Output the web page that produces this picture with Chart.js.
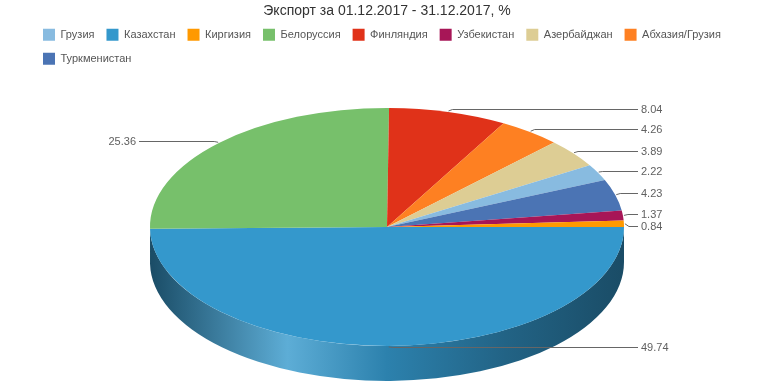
<!DOCTYPE html>
<html lang="ru">
<head>
<meta charset="utf-8">
<title>Экспорт за 01.12.2017 - 31.12.2017</title>
<script src="https://cdn.jsdelivr.net/npm/chart.js@4.4.0/dist/chart.umd.min.js"></script>
<style>
  html, body { margin: 0; padding: 0; background: #fff; }
  canvas { display: block; }
</style>
</head>
<body>
<canvas id="chart" width="774" height="387"></canvas>
<script>
// slices in drawing order, clockwise from 3 o'clock
const countries = ['Казахстан', 'Белоруссия', 'Финляндия', 'Абхазия/Грузия', 'Азербайджан', 'Грузия', 'Туркменистан', 'Узбекистан', 'Киргизия'];
const shares = [49.74, 25.36, 8.04, 4.26, 3.89, 2.22, 4.23, 1.37, 0.84];
const sliceColors = ['#3498cc', '#77c06b', '#e03219', '#fe8022', '#ddcd94', '#88bbe0', '#4b74b4', '#a71657', '#ff9900'];
// legend shows them in another order
const legendOrder = ['Грузия', 'Казахстан', 'Киргизия', 'Белоруссия', 'Финляндия', 'Узбекистан', 'Азербайджан', 'Абхазия/Грузия', 'Туркменистан'];
const titleText = 'Экспорт за 01.12.2017 - 31.12.2017, %';

const fontFamily = '"Liberation Sans", Arial, Helvetica, sans-serif';

function shade(hex, f) {
    const n = parseInt(hex.slice(1), 16);
    const rgb = [n >> 16, (n >> 8) & 255, n & 255].map(c =>
        Math.round(f < 0 ? c * (1 + f) : c + (255 - c) * f));
    return 'rgb(' + rgb.join(',') + ')';
}

// squashes the pie into an ellipse and paints a side wall under it
const pie3d = {
    id: 'pie3d',
    beforeDatasetsDraw(chart, args, opts) {
        const ctx = chart.ctx;
        const arcs = chart.getDatasetMeta(0).data;
        if (!arcs.length) return;
        const { x, y, outerRadius: ry } = arcs[0];
        const rx = ry * opts.stretch;
        const TAU = Math.PI * 2;

        arcs.forEach((arc, i) => {
            const a = ((arc.startAngle % TAU) + TAU) % TAU;
            const b = a + (arc.endAngle - arc.startAngle);
            const color = sliceColors[i];
            const grad = ctx.createLinearGradient(x - rx, 0, x + rx, 0);
            grad.addColorStop(0, shade(color, -0.5));
            grad.addColorStop(0.29, shade(color, 0.2));
            grad.addColorStop(0.5, shade(color, -0.15));
            grad.addColorStop(0.75, shade(color, -0.35));
            grad.addColorStop(1, shade(color, -0.5));
            [[0, Math.PI], [TAU, TAU + Math.PI]].forEach(([lo, hi]) => {
                const from = Math.max(a, lo), to = Math.min(b, hi);
                if (to <= from) return;
                ctx.beginPath();
                ctx.ellipse(x, y, rx, ry, 0, from, to, false);
                ctx.ellipse(x, y + opts.depth, rx, ry, 0, to, from, true);
                ctx.closePath();
                ctx.fillStyle = grad;
                ctx.fill();
            });
        });

        ctx.save();
        ctx.translate(x, y);
        ctx.scale(opts.stretch, 1);
        ctx.translate(-x, -y);
    },
    afterDatasetsDraw(chart, args, opts) {
        const ctx = chart.ctx;
        ctx.restore();
        const arcs = chart.getDatasetMeta(0).data;
        if (!arcs.length) return;
        const { x, y, outerRadius: ry } = arcs[0];
        const rx = ry * opts.stretch;

        const items = arcs.map((arc, i) => {
            const m = (arc.startAngle + arc.endAngle) / 2;
            const c = Math.cos(m), s = Math.sin(m);
            return { i, right: c >= 0, ax: x + (rx + 1) * c, ay: y + (ry + 1) * s, ly: y + (ry + 2) * s };
        });
        // push labels apart on each side
        [true, false].forEach(side => {
            const list = items.filter(it => it.right === side).sort((p, q) => p.ly - q.ly);
            for (let k = 1; k < list.length; k++) {
                if (list[k].ly < list[k - 1].ly + opts.minGap) list[k].ly = list[k - 1].ly + opts.minGap;
            }
        });

        ctx.save();
        ctx.font = '11px ' + fontFamily;
        ctx.textBaseline = 'middle';
        ctx.lineWidth = 1;
        ctx.strokeStyle = '#666';
        ctx.fillStyle = '#606060';
        items.forEach(it => {
            const dir = it.right ? 1 : -1;
            const textX = x + dir * (rx + (it.right ? opts.gapRight : opts.gapLeft));
            const ly = Math.round(it.ly) - 0.5;
            ctx.beginPath();
            ctx.moveTo(it.ax, it.ay);
            ctx.lineTo(it.ax + dir * 4, ly);
            ctx.lineTo(textX - dir * 3, ly);
            ctx.stroke();
            ctx.textAlign = it.right ? 'left' : 'right';
            ctx.fillText(shares[it.i].toFixed(2), textX, it.ly);
        });
        ctx.restore();
    }
};

Chart.defaults.font.family = fontFamily;

new Chart(document.getElementById('chart'), {
    type: 'pie',
    data: {
        labels: countries,
        datasets: [{
            data: shares,
            backgroundColor: sliceColors,
            borderWidth: 0,
            clip: false
        }]
    },
    plugins: [pie3d],
    options: {
        responsive: false,
        animation: false,
        devicePixelRatio: 1,
        rotation: 90,
        radius: 119,
        layout: { padding: { left: 31, right: 31, top: 0, bottom: 8 } },
        plugins: {
            pie3d: { stretch: 237 / 119, depth: 35, minGap: 12, gapRight: 17, gapLeft: 14 },
            title: {
                display: true,
                text: titleText,
                color: '#333',
                font: { size: 14, weight: 'normal' },
                padding: { top: 3, bottom: -3 }
            },
            legend: {
                position: 'top',
                align: 'start',
                labels: {
                    boxWidth: 12,
                    boxHeight: 12,
                    padding: 12,
                    color: '#555',
                    font: { size: 11 },
                    sort: (a, b) => legendOrder.indexOf(a.text) - legendOrder.indexOf(b.text)
                }
            },
            tooltip: { enabled: false }
        }
    }
});
</script>
</body>
</html>
